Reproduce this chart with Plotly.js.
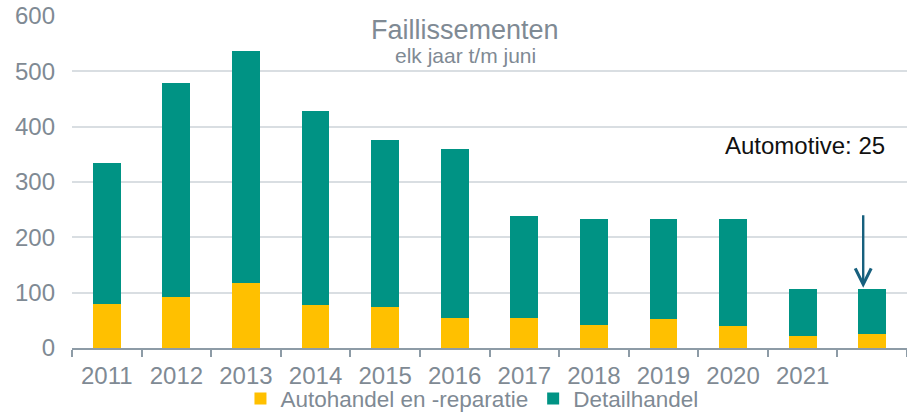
<!DOCTYPE html>
<html>
<head>
<meta charset="utf-8">
<script src="https://cdn.plot.ly/plotly-3.0.1.min.js"></script>
<style>html,body{margin:0;padding:0;background:#fff;}#chart{width:907px;height:412px;}</style>
</head>
<body>
<div id="chart"></div>
<script>
const categories = ["2011","2012","2013","2014","2015","2016","2017","2018","2019","2020","2021","\u00a0"];
const autohandel = [79, 92, 117, 77, 74, 55, 55, 41, 53, 40, 22, 25];
const detailhandel = [255, 387, 420, 351, 302, 305, 184, 192, 181, 193, 84, 82];
const seriesNames = ["Autohandel en -reparatie", "Detailhandel"];

const gray = "#7f8a94";
const font = "Liberation Sans, Arial, sans-serif";

const lastIdx = categories.length - 1;
const lastTotal = autohandel[lastIdx] + detailhandel[lastIdx];

const traces = [
  {type: "bar", name: seriesNames[0], x: categories, y: autohandel,
   marker: {color: "#FFC000"}, hoverinfo: "none"},
  {type: "bar", name: seriesNames[1], x: categories, y: detailhandel,
   marker: {color: "#009384"}, hoverinfo: "none"}
];

const layout = {
  width: 907, height: 412,
  margin: {l: 72, r: 0, t: 16, b: 64},
  barmode: "stack",
  bargap: 0.6,
  paper_bgcolor: "#fff", plot_bgcolor: "#fff",
  font: {family: font, color: gray, size: 22},
  showlegend: true,
  legend: {orientation: "h", x: 0.479, xanchor: "center", xref: "paper",
           y: 0.032, yanchor: "middle", yref: "container",
           bgcolor: "rgba(0,0,0,0)",
           font: {size: 22.5, color: gray}, traceorder: "normal"},
  xaxis: {
    type: "category", categoryorder: "array", categoryarray: categories,
    showline: true, linecolor: "#8d9ba6", linewidth: 2,
    ticks: "outside", tickson: "boundaries", ticklen: 7, tickcolor: "#8d9ba6", tickwidth: 2,
    tickfont: {size: 24, color: gray}, showgrid: false, ticklabelstandoff: 5,
    tickangle: 0, automargin: false
  },
  yaxis: {
    range: [0, 600], dtick: 100, showgrid: true, gridcolor: "#d9dee2", gridwidth: 2,
    zeroline: false, showline: false, ticks: "",
    tickfont: {size: 24, color: gray}, ticklabelstandoff: 16, automargin: false
  },
  annotations: [
    {text: "Faillissementen", xref: "paper", yref: "paper", x: 0.471, y: 0.958,
     showarrow: false, font: {size: 27, color: gray}, xanchor: "center", yanchor: "middle"},
    {text: "elk jaar t/m juni", xref: "paper", yref: "paper", x: 0.471, y: 0.8825,
     showarrow: false, font: {size: 21, color: gray}, xanchor: "center", yanchor: "middle"},
    {text: "Automotive: " + autohandel[lastIdx], xref: "paper", yref: "paper", x: 0.878, y: 0.611,
     showarrow: false, font: {size: 24, color: "#111"}, xanchor: "center", yanchor: "middle"},
    {text: "", x: categories[lastIdx], y: lastTotal, xref: "x", yref: "y",
     showarrow: true, ax: 0, ay: -74, axref: "pixel", ayref: "pixel", xshift: -9, yshift: 1,
     arrowhead: 5, arrowsize: 1.3, arrowwidth: 2.4, arrowcolor: "#17607e"}
  ]
};

Plotly.newPlot("chart", traces, layout, {staticPlot: true, displayModeBar: false});
</script>
</body>
</html>
